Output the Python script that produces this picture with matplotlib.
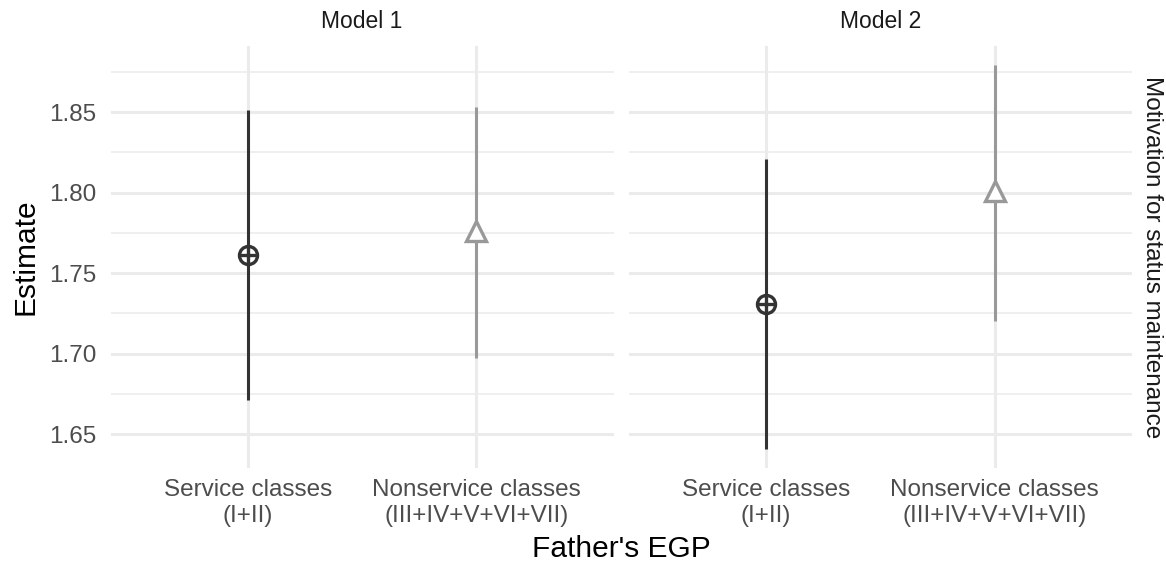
import numpy as np
import matplotlib.pyplot as plt

plt.rcParams['font.family'] = ['Liberation Sans', 'DejaVu Sans']

# data
models = ['Model 1', 'Model 2']
categories = ['Service classes\n(I+II)', 'Nonservice classes\n(III+IV+V+VI+VII)']
estimate = {'Model 1': [1.761, 1.776], 'Model 2': [1.731, 1.801]}
lower = {'Model 1': [1.671, 1.697], 'Model 2': [1.641, 1.720]}
upper = {'Model 1': [1.851, 1.853], 'Model 2': [1.821, 1.879]}
yticks = [1.65, 1.70, 1.75, 1.80, 1.85]
minor_ticks = [1.675, 1.725, 1.775, 1.825, 1.875]

colors = ['#333333', '#999999']
W, H = 1166, 561
fig = plt.figure(figsize=(W / 100, H / 100), dpi=100)

panel_x = [(110.6, 613.5), (629, 1132)]
top_px, bot_px = 46, 468
grid_col = '#EBEBEB'

for k, m in enumerate(models):
    x0, x1 = panel_x[k]
    ax = fig.add_axes([x0 / W, 1 - bot_px / H, (x1 - x0) / W, (bot_px - top_px) / H])
    ax.set_xlim(-0.6, 1.6)
    ax.set_ylim(1.629, 1.891)
    for s in ax.spines.values():
        s.set_visible(False)
    ax.set_yticks(yticks)
    ax.set_yticks(minor_ticks, minor=True)
    ax.set_xticks(range(len(categories)))
    ax.grid(True, which='major', color=grid_col, lw=2.2, zorder=0)
    ax.grid(True, which='minor', axis='y', color=grid_col, lw=1.1, zorder=0)
    ax.tick_params(which='both', length=0)
    ax.tick_params(axis='y', pad=10, labelsize=17.5, labelcolor='#4D4D4D')
    ax.tick_params(axis='x', pad=8, labelsize=17.5, labelcolor='#4D4D4D')
    ax.set_xticklabels(categories, linespacing=1.25)
    if k == 0:
        ax.set_yticklabels([f'{v:.2f}' for v in yticks])
    else:
        ax.set_yticklabels([])

    for i in range(len(categories)):
        ax.vlines(i, lower[m][i], upper[m][i], color=colors[i], lw=2.2, zorder=3)
    # service classes: circle with plus
    ax.plot(0, estimate[m][0], marker='o', ms=13, mfc='white', mec=colors[0], mew=2.4, zorder=4)
    ax.plot(0, estimate[m][0], marker='+', ms=13, mec=colors[0], mew=2.4, zorder=5)
    # nonservice classes: open triangle
    ax.plot(1, estimate[m][1], marker='^', ms=15, mfc='white', mec=colors[1], mew=2.4, zorder=4)

    fig.text((x0 + x1) / 2 / W, 1 - 22 / H, m, ha='center', va='center',
             fontsize=16.5, color='#1A1A1A')

fig.text(1152 / W, 1 - 257 / H, 'Motivation for status maintenance', rotation=-90,
         ha='center', va='center', fontsize=17.5, color='#1A1A1A')
fig.text(25 / W, 1 - 257 / H, 'Estimate', rotation=90, ha='center', va='center',
         fontsize=21.5, color='black')
fig.text(621 / W, 1 - 549 / H, "Father's EGP", ha='center', va='center',
         fontsize=21.5, color='black')

fig.savefig('out.png', dpi=100, facecolor='white')
